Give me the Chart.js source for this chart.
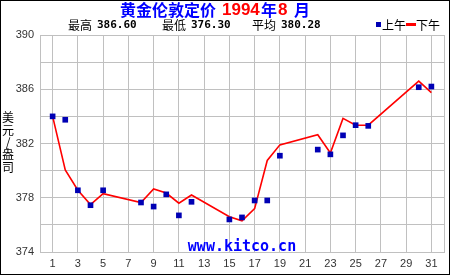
<!DOCTYPE html>
<html><head><meta charset="utf-8">
<script src="https://cdn.jsdelivr.net/npm/chart.js@4/dist/chart.umd.min.js"></script>
<style>html,body{margin:0;padding:0;background:#fff}#wrap{width:450px;height:275px;position:relative}</style>
</head><body><div id="wrap"><canvas id="c" width="450" height="275"></canvas></div>
<script>
// ---- data ----
const days = [1,2,3,4,5,8,9,10,11,12,15,16,17,18,19,22,23,24,25,26,30,31];
const amValues = [384.0,383.75,378.55,377.45,378.55,377.65,377.35,378.25,376.7,377.7,376.4,376.55,377.8,377.8,381.1,381.55,381.2,382.6,383.35,383.3,386.15,386.2];
const pmValues = [384.0,380.05,378.55,377.5,378.3,377.65,378.65,378.35,377.6,378.2,376.6,376.3,377.2,380.75,381.9,382.65,381.3,383.85,383.35,383.35,386.6,385.75];
const xTickLabels = [1,3,5,7,9,11,13,15,17,19,21,23,25,27,29,31];
const yGridTicks = [374,376,378,380,382,384,386,388,390];
const yLabelTicks = [374,378,382,386,390];
const titleParts = [
  {text:'黄金伦敦定价', color:'#0000ff', x:120},
  {text:'1994', color:'#ff0000', x:222},
  {text:'年', color:'#0000ff', x:261},
  {text:'8', color:'#ff0000', x:278},
  {text:'月', color:'#0000ff', x:294}
];
const statLabels = ['最高','最低','平均'];
const statValues = ['386.60','376.30','380.28'];
const legendLabels = ['上午','下午'];
const yAxisTitle = ['美','元','/','盎','司'];
const watermark = 'www.kitco.cn';

const amPoints = days.map((d,i)=>({x:d,y:amValues[i]}));
const pmPoints = days.map((d,i)=>({x:d,y:pmValues[i]}));

const CJK = '"Noto Sans CJK SC", "Noto Sans", sans-serif';

const decor = {
  id:'decor',
  beforeDraw(chart){
    const ctx = chart.ctx;
    ctx.save();
    ctx.fillStyle = '#fff';
    ctx.fillRect(0,0,chart.width,chart.height);
    ctx.restore();
  },
  beforeDatasetsDraw(chart){
    const ctx = chart.ctx;
    const a = chart.chartArea;
    ctx.save();
    ctx.font = 'bold 15px "DejaVu Sans Mono", monospace';
    ctx.fillStyle = '#0000ff';
    ctx.textAlign = 'center';
    ctx.textBaseline = 'alphabetic';
    ctx.fillText(watermark, (a.left+a.right)/2, a.bottom - 1);
    ctx.restore();
  },
  afterDraw(chart){
    const ctx = chart.ctx;
    ctx.save();
    // title
    ctx.textBaseline = 'middle';
    ctx.textAlign = 'left';
    titleParts.forEach(p=>{
      ctx.fillStyle = p.color;
      ctx.font = /^[0-9]+$/.test(p.text) ? 'bold 17px "Liberation Sans", Arial, sans-serif' : 'bold 16px ' + CJK;
      ctx.fillText(p.text, p.x, 10);
    });
    // stats
    const statX = [68,162,252];
    statLabels.forEach((l,i)=>{
      ctx.fillStyle = '#000';
      ctx.font = '12px ' + CJK;
      ctx.fillText(l, statX[i], 25);
      ctx.font = 'bold 11px "DejaVu Sans Mono", monospace';
      ctx.fillText(statValues[i], statX[i]+29, 25.5);
    });
    // legend
    ctx.fillStyle = '#0000b4';
    ctx.fillRect(376,22,5,5);
    ctx.fillStyle = '#000';
    ctx.font = '12px ' + CJK;
    ctx.fillText(legendLabels[0], 382, 25);
    ctx.fillStyle = '#ff0000';
    ctx.fillRect(406,23,10,3);
    ctx.fillStyle = '#000';
    ctx.fillText(legendLabels[1], 416, 25);
    // y title
    ctx.textAlign = 'center';
    const ys = [117,130.5,142.5,154.5,167];
    yAxisTitle.forEach((c,i)=>{
      ctx.font = '12px ' + CJK;
      ctx.fillText(c, 8, ys[i]);
    });
    // frame
    ctx.strokeStyle = '#000';
    ctx.lineWidth = 1;
    ctx.strokeRect(0.5,0.5,449,274);
    ctx.restore();
  }
};

new Chart(document.getElementById('c'), {
  type:'scatter',
  data:{
    datasets:[
      {label:'上午', data:amPoints, showLine:false, pointStyle:'rect', pointRadius:4, pointHoverRadius:4,
       backgroundColor:'#0000b4', borderWidth:0, order:0},
      {label:'下午', data:pmPoints, showLine:true, borderColor:'#ff0000', borderWidth:1.6, pointRadius:0,
       pointHoverRadius:0, tension:0, fill:false, order:1}
    ]
  },
  options:{
    responsive:false, animation:false, devicePixelRatio:1,
    layout:{padding:{top:35,right:6,left:0,bottom:0}},
    plugins:{legend:{display:false}, tooltip:{enabled:false}},
    events:[],
    scales:{
      x:{type:'linear', min:0, max:32,
        afterBuildTicks(s){ s.ticks = [0,...xTickLabels,32].map(v=>({value:v})); },
        afterFit(s){ s.height = 23; },
        ticks:{autoSkip:false, maxRotation:0, padding:5, color:'#333',
          font:{family:'"Liberation Sans", Arial, sans-serif', size:11},
          callback:v=> xTickLabels.includes(v) ? String(v) : ''},
        grid:{color:'#c0c0c0', lineWidth:1, drawTicks:false},
        border:{color:'#c0c0c0'}
      },
      y:{min:374, max:390,
        afterBuildTicks(s){ s.ticks = yGridTicks.map(v=>({value:v})); },
        afterFit(s){ s.width = 40; },
        ticks:{autoSkip:false, padding:6, color:'#333',
          font:{family:'"Liberation Sans", Arial, sans-serif', size:11},
          callback:v=> yLabelTicks.includes(v) ? String(v) : ''},
        grid:{color:'#c0c0c0', lineWidth:1, drawTicks:false},
        border:{color:'#c0c0c0'}
      }
    }
  },
  plugins:[decor]
});
</script></body></html>
